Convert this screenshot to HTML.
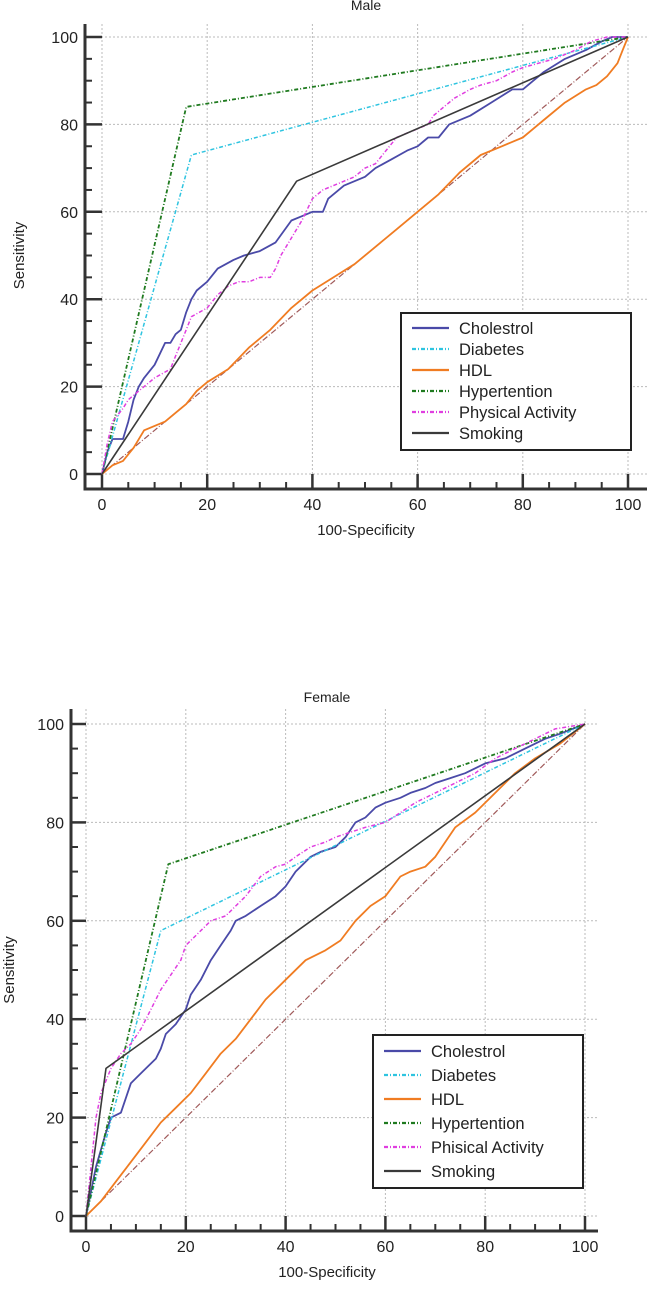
<!DOCTYPE html>
<html><head><meta charset="utf-8"><style>
html,body{margin:0;padding:0;background:#fff}
svg{display:block;font-family:"Liberation Sans",Arial,sans-serif}
</style></head><body>
<svg id="s" width="650" height="1289" viewBox="0 0 650 1289"></svg>
<script>
const maleCholX=[0,1,2,4,5,6,7,8,10,12,13,14,15,16,17,18,20,22,25,27,30,33,36,38,40,42,43,46,50,52,55,58,60,62,64,66,70,74,78,80,82,84,88,92,95,97,100];
const maleCholY=[0,5,8,8,12,17,20,22,25,30,30,32,33,37,40,42,44,47,49,50,51,53,58,59,60,60,63,66,68,70,72,74,75,77,77,80,82,85,88,88,90,92,95,97,99,100,100];
const maleDiabX=[0,17,100];const maleDiabY=[0,73,100];
const maleHdlX=[0,2,4,6,8,10,12,14,16,18,20,24,28,32,36,40,44,48,52,56,60,64,68,72,76,80,84,88,92,94,96,98,99,100];
const maleHdlY=[0,2,3,6,10,11,12,14,16,19,21,24,29,33,38,42,45,48,52,56,60,64,69,73,75,77,81,85,88,89,91,94,97,100];
const maleHypX=[0,16,100];const maleHypY=[0,84,100];
const malePaX=[0,1,2,4,5,8,10,13,14,16,17,20,22,24,26,28,30,32,33,34,36,38,40,42,44,46,48,50,52,54,56,58,60,62,63,65,67,70,72,75,78,80,83,86,90,93,96,100];
const malePaY=[0,7,12,15,17,20,22,24,27,33,36,38,41,43,44,44,45,45,47,50,54,58,63,65,66,67,68,70,71,74,77,78,79,80,82,84,86,88,89,90,92,93,94,95,97,99,100,100];
const maleSmkX=[0,37,100];const maleSmkY=[0,67,100];
const femCholX=[0,2,4,5,7,8,9,10,12,14,15,16,18,20,21,23,25,27,29,30,32,35,38,40,42,45,47,50,52,54,56,58,60,63,65,68,70,73,76,80,84,88,92,95,100];
const femCholY=[0,10,17,20,21,24,27,28,30,32,34,37,39,42,45,48,52,55,58,60,61,63,65,67,70,73,74,75,77,80,81,83,84,85,86,87,88,89,90,92,93,95,97,98,100];
const femDiabX=[0,15,100];const femDiabY=[0,58,100];
const femHdlX=[0,3,6,9,12,15,18,21,24,27,30,33,36,40,44,48,51,54,57,60,63,65,68,70,74,78,82,86,90,95,100];
const femHdlY=[0,3,7,11,15,19,22,25,29,33,36,40,44,48,52,54,56,60,63,65,69,70,71,73,79,82,86,90,93,96,100];
const femHypX=[0,16.5,100];const femHypY=[0,71.5,100];
const femPaX=[0,1,2,3,5,7,9,11,13,15,17,19,20,22,25,28,30,32,35,38,40,42,45,48,50,53,56,60,63,66,70,74,78,82,86,90,94,100];
const femPaY=[0,10,20,25,30,33,35,38,42,46,49,52,55,57,60,61,63,65,69,71,71.5,73,75,76,77,78,79,80,82,84,86,88,90,93,95,97,99,100];
const femSmkX=[0,4,100];const femSmkY=[0,30,100];
const tickLabels=["0","20","40","60","80","100"];
const maleLegend=["Cholestrol","Diabetes","HDL","Hypertention","Physical Activity","Smoking"];
const femLegend=["Cholestrol","Diabetes","HDL","Hypertention","Phisical Activity","Smoking"];

const NS="http://www.w3.org/2000/svg";
const svg=document.getElementById('s');
function mk(tag,attrs,parent,txt){const e=document.createElementNS(NS,tag);for(const k in attrs)e.setAttribute(k,attrs[k]);if(txt!==undefined)e.textContent=txt;(parent||svg).appendChild(e);return e;}
const styles=[
 {c:"#4a4aa8",w:1.8,d:""},
 {c:"#2ec4e0",w:1.5,d:"4 2 1 2"},
 {c:"#f07c22",w:1.8,d:""},
 {c:"#1f7a1f",w:1.8,d:"4 2 1 2"},
 {c:"#e03ee0",w:1.5,d:"4 2 1 2"},
 {c:"#3a3a3a",w:1.6,d:""}];
const names=["cholesterol","diabetes","hdl","hypertension","physical-activity","smoking"];

function chart(cfg){
 const g=mk('g',{});
 
 
 const sx=v=>cfg.x0+(cfg.x1-cfg.x0)*v/100, sy=v=>cfg.y0+(cfg.y1-cfg.y0)*v/100;
 for(let v=0;v<=100;v+=20){
  const gl=mk('line',{x1:sx(v),x2:sx(v),y1:cfg.top,y2:cfg.axY,stroke:"#bbb","stroke-width":1,"stroke-dasharray":"2 2"},g);
  
  const hl=mk('line',{x1:cfg.axX,x2:cfg.right,y1:sy(v),y2:sy(v),stroke:"#bbb","stroke-width":1,"stroke-dasharray":"2 2"},g);
  
 }
 const ax=mk('path',{d:`M${cfg.axX},${cfg.top} V${cfg.axY} H${cfg.right}`,stroke:"#333","stroke-width":3,fill:"none"},g);
 
 for(let v=0;v<=100;v+=5){
  const maj=v%20===0;
  const t=mk('line',{x1:sx(v),x2:sx(v),y1:cfg.axY,y2:maj?cfg.y0:cfg.axY-7,stroke:"#333","stroke-width":maj?2.5:2},g);
  
  const u=mk('line',{x1:cfg.axX,x2:maj?cfg.x0:cfg.axX+7,y1:sy(v),y2:sy(v),stroke:"#333","stroke-width":maj?2.5:2},g);
  
 }
 tickLabels.forEach((l,i)=>{
  const v=i*20;
  const a=mk('text',{x:sx(v),y:cfg.axY+21,"text-anchor":"middle","font-size":16,fill:"#222"},g,l);
  
  const b=mk('text',{x:cfg.axX-7,y:sy(v)+6,"text-anchor":"end","font-size":16,fill:"#222"},g,l);
  
 });
 const tt=mk('text',{x:cfg.titleX,y:cfg.titleY,"text-anchor":"middle","font-size":14,fill:"#222"},g,cfg.title);
 
 const xl=mk('text',{x:cfg.titleX,y:cfg.axY+46,"text-anchor":"middle","font-size":15,fill:"#222"},g,"100-Specificity");
 
 const yl=mk('text',{x:0,y:0,transform:`translate(${cfg.ylX},${(cfg.y0+cfg.y1)/2}) rotate(-90)`,"text-anchor":"middle","font-size":15,fill:"#222"},g,"Sensitivity");
 
 const dg=mk('line',{x1:sx(0),y1:sy(0),x2:sx(100),y2:sy(100),stroke:"#a05a5a","stroke-width":1.2,"stroke-dasharray":"6 2 1 2"},g);
 
 cfg.series.forEach((s,i)=>{
  const st=styles[i];
  const pts=s[0].map((x,j)=>sx(x).toFixed(1)+","+sy(s[1][j]).toFixed(1)).join(" ");
  const p=mk('polyline',{points:pts,fill:"none",stroke:st.c,"stroke-width":st.w,"stroke-dasharray":st.d,"stroke-linejoin":"round"},g);
  
 });
 const L=cfg.leg;
 const lb=mk('rect',{x:L.x,y:L.y,width:L.w,height:L.h,fill:"#fff",stroke:"#222","stroke-width":2},g);
 
 cfg.legend.forEach((name,i)=>{
  const st=styles[i];const yy=L.y+L.off+i*L.step;
  const ln=mk('line',{x1:L.x+11,x2:L.x+48,y1:yy,y2:yy,stroke:st.c,"stroke-width":2.2,"stroke-dasharray":st.d},g);
  
  const tx=mk('text',{x:L.x+58,y:yy+6,"font-size":16.5,fill:"#222"},g,name);
  
 });
}
chart({id:"male",title:"Male",x0:102,x1:628,y0:474,y1:37,axX:85,axY:489,top:24,right:647,titleX:366,titleY:10,ylX:24,
 leg:{x:401,y:313,w:230,h:137,step:21,off:15},legend:maleLegend,
 series:[[maleCholX,maleCholY],[maleDiabX,maleDiabY],[maleHdlX,maleHdlY],[maleHypX,maleHypY],[malePaX,malePaY],[maleSmkX,maleSmkY]]});
chart({id:"female",title:"Female",x0:86,x1:585,y0:1216,y1:724,axX:71,axY:1231,top:709,right:598,titleX:327,titleY:702,ylX:14,
 leg:{x:373,y:1035,w:210,h:153,step:24,off:16},legend:femLegend,
 series:[[femCholX,femCholY],[femDiabX,femDiabY],[femHdlX,femHdlY],[femHypX,femHypY],[femPaX,femPaY],[femSmkX,femSmkY]]});
</script>
</body></html>
